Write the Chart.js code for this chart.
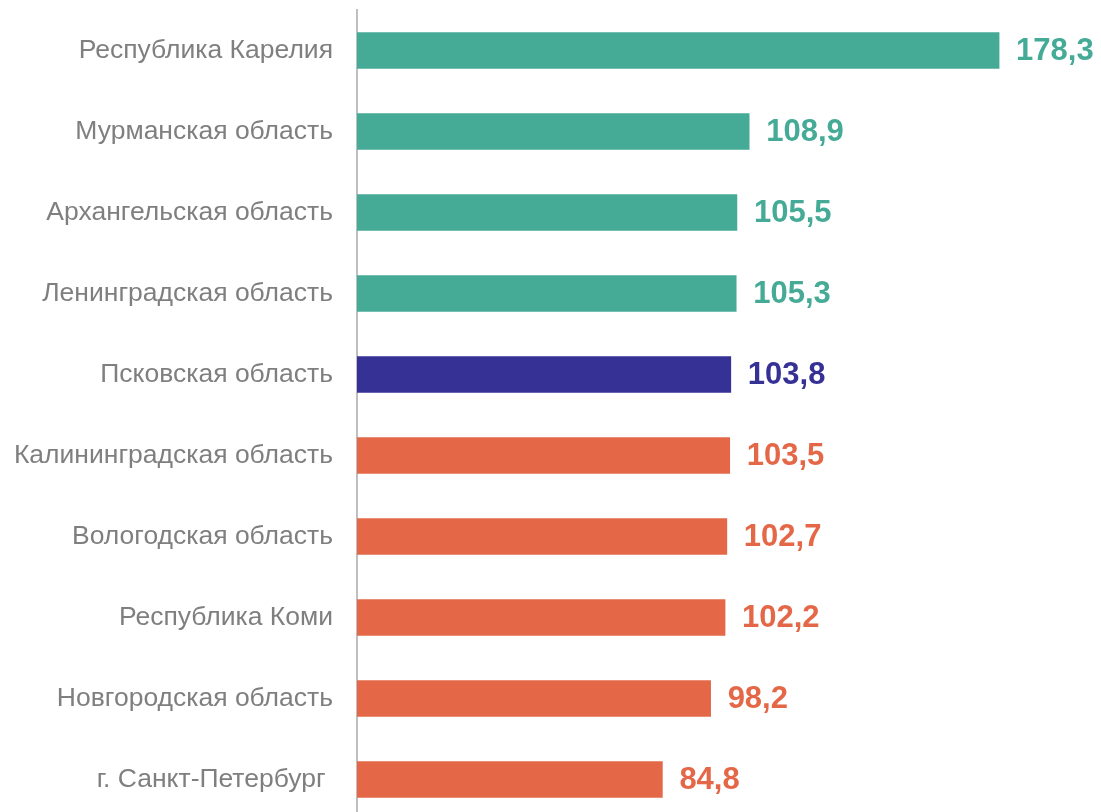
<!DOCTYPE html>
<html>
<head>
<meta charset="utf-8">
<script src="https://cdn.jsdelivr.net/npm/chart.js@4"></script>
<style>
  html, body { margin: 0; padding: 0; background: #fff; overflow: hidden; }
  #wrap { width: 1101px; height: 830px; }
</style>
</head>
<body>
<div id="wrap"><canvas id="c" width="1101" height="830"></canvas></div>
<script>
const categories = [
  "Республика Карелия",
  "Мурманская область",
  "Архангельская область",
  "Ленинградская область",
  "Псковская область",
  "Калининградская область",
  "Вологодская область",
  "Республика Коми",
  "Новгородская область",
  "г. Санкт-Петербург "
];
const values = [178.3, 108.9, 105.5, 105.3, 103.8, 103.5, 102.7, 102.2, 98.2, 84.8];
const groups = ["above", "above", "above", "above", "self", "below", "below", "below", "below", "below"];

const palette = { above: "#45AB97", self: "#363194", below: "#E46848" };
const barColors = groups.map(g => palette[g]);

const valueLabels = {
  id: "valueLabels",
  afterDatasetsDraw(chart) {
    const ctx = chart.ctx;
    const meta = chart.getDatasetMeta(0);
    ctx.save();
    ctx.font = "bold 31px 'Liberation Sans', Arial, sans-serif";
    ctx.textBaseline = "middle";
    ctx.textAlign = "left";
    meta.data.forEach((bar, i) => {
      ctx.fillStyle = barColors[i];
      ctx.fillText(values[i].toFixed(1).replace(".", ","), bar.x + 17, bar.y + 1);
    });
    ctx.restore();
  }
};

new Chart(document.getElementById("c"), {
  type: "bar",
  data: {
    labels: categories,
    datasets: [{
      data: values,
      backgroundColor: barColors,
      borderWidth: 0,
      barThickness: 36
    }]
  },
  options: {
    indexAxis: "y",
    responsive: false,
    animation: false,
    layout: { padding: { top: 10, bottom: 10, left: 0, right: 0 } },
    plugins: { legend: { display: false }, tooltip: { enabled: false } },
    scales: {
      x: { display: false, min: 0, max: 206.6 },
      y: {
        z: 1,
        afterFit(scale) { scale.width = 357; },
        grid: { display: false, drawTicks: true, tickLength: 24 },
        border: { display: true, color: "#BFBFBF", width: 2 },
        ticks: {
          padding: 0,
          color: "#7F7F7F",
          font: { family: "'Liberation Sans', Arial, sans-serif", size: 26.5, lineHeight: 0.5 }
        }
      }
    }
  },
  plugins: [valueLabels]
});
</script>
</body>
</html>
